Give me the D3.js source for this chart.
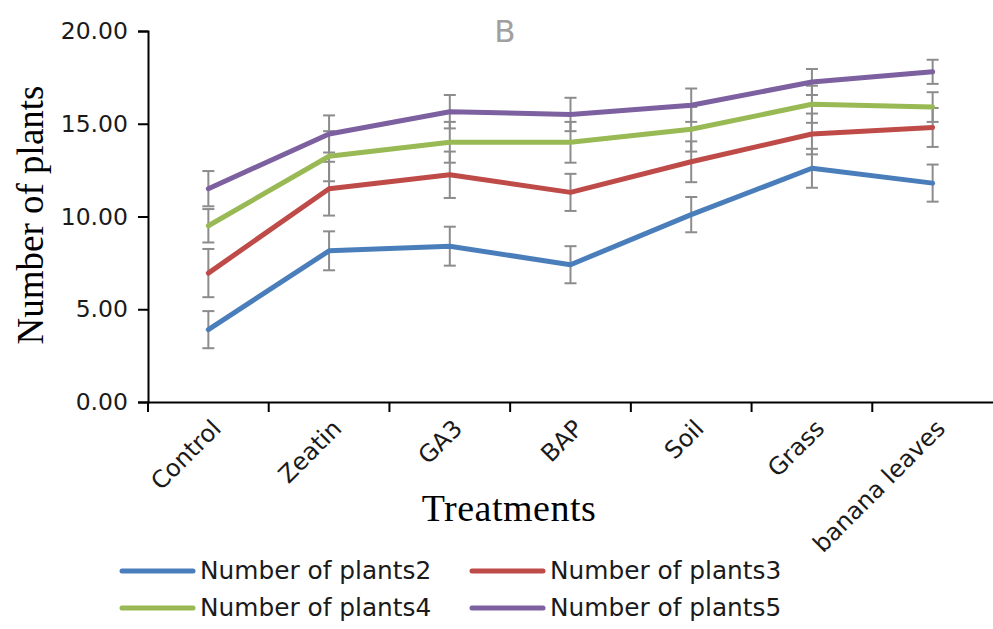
<!DOCTYPE html>
<html>
<head>
<meta charset="utf-8">
<script src="https://cdn.jsdelivr.net/npm/d3@7"></script>
<style>
  body { margin: 0; background: #fff; }
  svg { display: block; }
  .tick text { font-family: "DejaVu Sans", sans-serif; fill: #1a1a1a; }
</style>
</head>
<body>
<div id="chart"></div>
<script>
// treatments on the x axis
let treatments = ["Control", "Zeatin", "GA3", "BAP", "Soil", "Grass", "banana leaves"];

// means
let plants2 = [3.9, 8.15, 8.4, 7.4, 10.1, 12.6, 11.8];
let plants3 = [6.95, 11.5, 12.25, 11.3, 12.95, 14.45, 14.8];
let plants4 = [9.5, 13.25, 14.0, 14.0, 14.7, 16.05, 15.9];
let plants5 = [11.5, 14.45, 15.65, 15.5, 16.0, 17.25, 17.8];

// error bar half widths
let err2 = [1.0, 1.05, 1.05, 1.0, 0.95, 1.05, 1.0];
let err3 = [1.3, 1.45, 1.25, 1.0, 1.1, 1.1, 1.05];
let err4 = [0.9, 1.35, 1.1, 1.1, 1.2, 1.0, 0.8];
let err5 = [0.95, 1.0, 0.9, 0.9, 0.9, 0.7, 0.65];

let seriesNames = ["Number of plants2", "Number of plants3", "Number of plants4", "Number of plants5"];
let seriesColors = ["#4a7ebb", "#be4b48", "#98b954", "#7d60a0"];
let yTicks = [0, 5, 10, 15, 20];

let series = [
  {name: seriesNames[0], values: plants2, err: err2, color: seriesColors[0]},
  {name: seriesNames[1], values: plants3, err: err3, color: seriesColors[1]},
  {name: seriesNames[2], values: plants4, err: err4, color: seriesColors[2]},
  {name: seriesNames[3], values: plants5, err: err5, color: seriesColors[3]}
];

let width = 993, height = 629;

let svg = d3.select("#chart").append("svg")
  .attr("width", width)
  .attr("height", height);

let x = d3.scaleBand()
  .domain(treatments)
  .range([148, 993]);

let y = d3.scaleLinear()
  .domain([0, 20])
  .range([402, 31]);

// y axis
let yAxis = d3.axisLeft(y)
  .tickValues(yTicks)
  .tickFormat(d3.format(".2f"))
  .tickSize(10)
  .tickPadding(10);

let gy = svg.append("g")
  .attr("transform", "translate(148,0)")
  .call(yAxis);
gy.selectAll("text").style("font-size", "23.5px");
gy.selectAll("path, line").attr("stroke", "#000").attr("stroke-width", 2);

// x axis, ticks on band edges
let xAxis = d3.axisBottom(x).tickSize(0).tickFormat("");
let gx = svg.append("g")
  .attr("transform", "translate(0,402)")
  .call(xAxis);
gx.select("path").attr("stroke", "#000").attr("stroke-width", 2);

svg.append("g").selectAll("line")
  .data(treatments)
  .enter().append("line")
  .attr("x1", d => x(d))
  .attr("x2", d => x(d))
  .attr("y1", 402)
  .attr("y2", 412)
  .attr("stroke", "#000")
  .attr("stroke-width", 2);

// x labels rotated
svg.append("g").selectAll("text")
  .data(treatments)
  .enter().append("text")
  .attr("transform", d => "translate(" + (x(d) + x.bandwidth() / 2 + 14) + ",430) rotate(-45)")
  .attr("text-anchor", "end")
  .style("font-family", "DejaVu Sans, sans-serif")
  .style("font-size", "24px")
  .attr("fill", "#1a1a1a")
  .text(d => d);

let cx = d => x(d) + x.bandwidth() / 2;

// error bars
series.forEach(function(s) {
  let eg = svg.append("g").attr("class", "err");
  treatments.forEach(function(t, i) {
    let top = y(s.values[i] + s.err[i]);
    let bot = y(s.values[i] - s.err[i]);
    eg.append("line")
      .attr("x1", cx(t)).attr("x2", cx(t))
      .attr("y1", top).attr("y2", bot)
      .attr("stroke", "#8c8c8c").attr("stroke-width", 2);
    [top, bot].forEach(function(yy) {
      eg.append("line")
        .attr("x1", cx(t) - 6).attr("x2", cx(t) + 6)
        .attr("y1", yy).attr("y2", yy)
        .attr("stroke", "#8c8c8c").attr("stroke-width", 2);
    });
  });
});

// lines
let line = d3.line()
  .x((d, i) => cx(treatments[i]))
  .y(d => y(d));

svg.append("g").selectAll("path")
  .data(series)
  .enter().append("path")
  .attr("d", d => line(d.values))
  .attr("fill", "none")
  .attr("stroke", d => d.color)
  .attr("stroke-width", 5)
  .attr("stroke-linejoin", "round")
  .attr("stroke-linecap", "round");

// panel letter
svg.append("text")
  .attr("x", 505)
  .attr("y", 42)
  .attr("text-anchor", "middle")
  .style("font-family", "DejaVu Sans, sans-serif")
  .style("font-size", "31px")
  .attr("fill", "#a0a0a0")
  .text("B");

// axis titles
svg.append("text")
  .attr("transform", "translate(43,215) rotate(-90)")
  .attr("text-anchor", "middle")
  .style("font-family", "Liberation Serif, serif")
  .style("font-size", "37px")
  .attr("fill", "#000")
  .text("Number of plants");

svg.append("text")
  .attr("x", 509)
  .attr("y", 521)
  .attr("text-anchor", "middle")
  .style("font-family", "Liberation Serif, serif")
  .style("font-size", "38px")
  .style("letter-spacing", "0.5px")
  .attr("fill", "#000")
  .text("Treatments");

// legend
let legend = svg.append("g").selectAll("g")
  .data(series)
  .enter().append("g")
  .attr("transform", (d, i) => "translate(" + (i % 2 === 0 ? 122 : 472) + "," + (i < 2 ? 571 : 608) + ")");

legend.append("line")
  .attr("x1", 0).attr("x2", 71)
  .attr("y1", 0).attr("y2", 0)
  .attr("stroke", d => d.color)
  .attr("stroke-width", 5)
  .attr("stroke-linecap", "round");

legend.append("text")
  .attr("x", 78)
  .attr("y", 8)
  .style("font-family", "DejaVu Sans, sans-serif")
  .style("font-size", "24.8px")
  .attr("fill", "#1a1a1a")
  .text(d => d.name);
</script>
</body>
</html>
